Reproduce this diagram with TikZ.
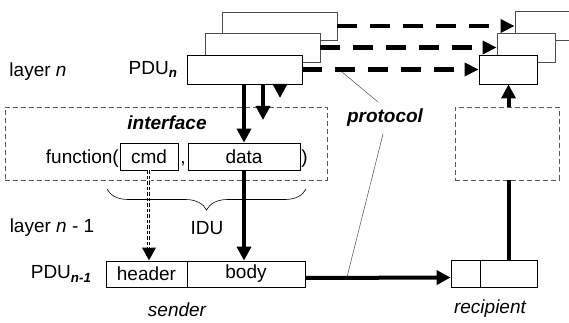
\documentclass[tikz,border=0pt]{standalone}
\usepackage{fontspec}
\setmainfont{Liberation Sans}
\usetikzlibrary{arrows.meta,decorations.pathreplacing}
\tikzset{
  box/.style={draw, line width=0.8pt, fill=white, inner sep=0pt, font=\fontsize{19}{22}\selectfont},
  backbox/.style={box, draw=black!70},
  thickarrow/.style={line width=4pt, -{Triangle[length=14pt,width=14pt]}},
  protoarrow/.style={line width=4.5pt, dash pattern=on 20pt off 13pt, -{Triangle[length=14pt,width=13pt]}},
  dashbox/.style={draw=black!65, line width=0.8pt, dash pattern=on 5pt off 3pt, inner sep=0pt},
  lbl/.style={inner sep=0pt, font=\fontsize{19}{22}\selectfont},
  thinline/.style={draw=black!70, line width=0.5pt},
}
\begin{document}
\begin{tikzpicture}[x=1pt,y=-1pt]
\useasboundingbox (0,0) rectangle (569,323);
% sender stacked PDUs
\node[backbox, minimum width=115pt, minimum height=28pt] (s3) at (279.5,26) {};
\node[backbox, minimum width=115pt, minimum height=29pt] (s2) at (262.5,47.5) {};
\node[box, minimum width=115pt, minimum height=29pt] (s1) at (244.5,69.5) {};
% recipient stacked PDUs
\node[backbox, minimum width=58pt, minimum height=29pt] (r3) at (544,26) {};
\node[backbox, minimum width=58pt, minimum height=29pt] (r2) at (526,47.5) {};
\node[box, minimum width=58pt, minimum height=29pt] (r1) at (508,69.5) {};
% protocol arrows
\draw[protoarrow] (s3.east) -- (r3.west);
\draw[protoarrow] (s2.east) -- (r2.west);
\draw[protoarrow] (s1.east) -- (r1.west);
% interface
\node[dashbox, minimum width=322pt, minimum height=73pt] (iface) at (166,143.5) {};
\node[lbl, font=\fontsize{19}{22}\selectfont\bfseries\itshape] (ifl) at (167,123) {interface};
\node[box, minimum width=58pt, minimum height=27pt] (cmd) at (149,156.5) {cmd};
\node[box, minimum width=112pt, minimum height=27pt] (data) at (244,156.5) {data};
\node[lbl, anchor=base east] (fn) at (119,163) {function(};
\node[lbl, anchor=base] (comma) at (183,163) {,};
\node[lbl, anchor=base] (rpar) at (304.5,163) {)};
% recipient dashed box
\node[dashbox, minimum width=104pt, minimum height=73pt] (rdash) at (507,143.5) {};
% lower layer PDUs
\node[box, minimum width=81pt, minimum height=26pt] (hd) at (146.5,274) {header};
\node[box, minimum width=118pt, minimum height=26pt] (body) at (246,274) {body};
\node[box, minimum width=29pt, minimum height=27pt] (rr1) at (465.5,273.5) {};
\node[box, minimum width=57pt, minimum height=27pt] (rr2) at (508.5,273.5) {};
% down arrows from PDU_n
\coordinate (a2) at (263,120);
\coordinate (a3) at (280,98);
\draw[thickarrow] (data.north |- s1.south) -- (data.north);
\draw[thickarrow] ([xshift=18.5pt]s1.south) -- (a2);
\draw[thickarrow] ([xshift=35.5pt]s1.south) -- (a3);
% data -> body
\draw[thickarrow] (data.south) -- (data.south |- body.north);
% cmd -> header (striped dashed arrow)
\draw[line width=4.2pt, dash pattern=on 3.5pt off 2pt, -{Triangle[length=13pt,width=13pt]}] (cmd.south) -- (cmd.south |- hd.north);
\draw[white, line width=0.35pt] ([xshift=-0.95pt]cmd.south) -- ([xshift=-0.95pt,yshift=13pt]cmd.south |- hd.north);
\draw[white, line width=0.35pt] ([xshift=0.95pt]cmd.south) -- ([xshift=0.95pt,yshift=13pt]cmd.south |- hd.north);
% body -> recipient
\draw[thickarrow] ([yshift=-4pt]body.east) -- ([yshift=-4pt]rr1.west);
% recipient upward
\draw[line width=4pt] (rr2.north) -- (rr2.north |- rdash.south);
\draw[thickarrow] (rr2.north |- rdash.north) -- (rr2.north |- r1.south);
% brace
\draw[line width=0.6pt, decorate, decoration={brace, mirror, amplitude=21pt}] (107,189) -- (306,189);
% protocol label
\node[lbl, font=\fontsize{19}{22}\selectfont\bfseries\itshape] (prot) at (385,118) {protocol};
\coordinate (pa) at (378,102);
\coordinate (pb) at (383,134);
\coordinate (pl1) at (342,72);
\coordinate (pl2) at (347,277);
\draw[thinline] (pa) -- (pl1);
\draw[thinline] (pb) -- (pl2);
% labels
\node[lbl] (ln) at (38,72) {layer \textit{n}};
\node[lbl, anchor=east] (pdun) at ([xshift=-9pt]s1.west) {PDU\textsubscript{\textbf{\textit{n}}}};
\node[lbl] (ln1) at (52,228) {layer \textit{n} - 1};
\node[lbl] (idu) at (207,228) {IDU};
\node[lbl, anchor=east] (pdun1) at ([xshift=-14pt]hd.west) {PDU\textsubscript{\textbf{\textit{n-1}}}};
\node[lbl, font=\fontsize{19}{22}\selectfont\itshape] (snd) at (177,310) {sender};
\node[lbl, font=\fontsize{19}{22}\selectfont\itshape] (rcp) at (490,309) {recipient};
\end{tikzpicture}
\end{document}
